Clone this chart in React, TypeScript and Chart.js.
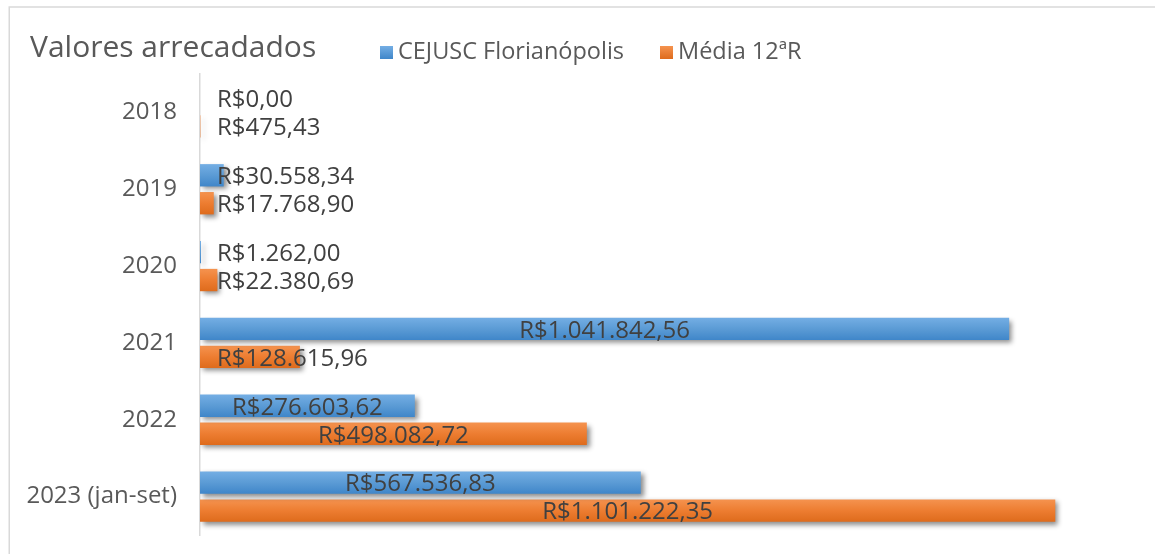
import React, { useEffect, useRef } from "react";
import { Chart, registerables } from "chart.js";

Chart.register(...registerables);

const title = "Valores arrecadados";
const categories = ["2018", "2019", "2020", "2021", "2022", "2023 (jan-set)"];
const seriesNames = ["CEJUSC Florianópolis", "Média 12ªR"];
const cejuscValues = [0, 30558.34, 1262.0, 1041842.56, 276603.62, 567536.83];
const mediaValues = [475.43, 17768.9, 22380.69, 128615.96, 498082.72, 1101222.35];
const xMin = 0;
const xMax = 1200000;

const FONT = "'Open Sans', 'DejaVu Sans', sans-serif";
const CAT_PCT = 0.727;
const BAR_PCT = 0.8;

const seriesColors = [
  { top: "#74aee4", mid: "#5b9bd5", bottom: "#3f86c9", legend: "#5b9bd5" },
  { top: "#f5934f", mid: "#ed7d31", bottom: "#de6b1c", legend: "#ed7d31" },
];

function formatBRL(v: number): string {
  const [i, d] = v.toFixed(2).split(".");
  return "R$" + i.replace(/\B(?=(\d{3})+(?!\d))/g, ".") + "," + d;
}

function gradientFor(dsIndex: number) {
  return (ctx: any) => {
    const chart = ctx.chart;
    const y = chart.scales && chart.scales.y;
    const c = seriesColors[dsIndex];
    if (!y || ctx.dataIndex === undefined) return c.mid;
    const n = categories.length;
    const band = y.height / n;
    const slot = (band * CAT_PCT) / 2;
    const center = y.getPixelForValue(ctx.dataIndex) + (dsIndex - 0.5) * slot;
    const half = (slot * BAR_PCT) / 2;
    if (!isFinite(center) || !isFinite(half) || half <= 0) return c.mid;
    const g = chart.ctx.createLinearGradient(0, center - half, 0, center + half);
    g.addColorStop(0, c.top);
    g.addColorStop(0.5, c.mid);
    g.addColorStop(1, c.bottom);
    return g;
  };
}

const framePlugin = {
  id: "frame",
  beforeDraw(chart: any) {
    const c = chart.ctx;
    c.save();
    c.fillStyle = "#ffffff";
    c.fillRect(0, 0, chart.width, chart.height);
    c.strokeStyle = "#d9d9d9";
    c.lineWidth = 1.5;
    c.beginPath();
    c.moveTo(9.25, chart.height);
    c.lineTo(9.25, 7);
    c.lineTo(chart.width, 7);
    c.stroke();
    // title
    c.fillStyle = "#595959";
    c.font = `30px ${FONT}`;
    c.textBaseline = "alphabetic";
    c.textAlign = "left";
    c.fillText(title, 30, 57);
    // legend
    const legendX = [380, 660];
    c.font = `23.5px ${FONT}`;
    c.textBaseline = "middle";
    seriesNames.forEach((name, i) => {
      const g = c.createLinearGradient(0, 46, 0, 59);
      g.addColorStop(0, seriesColors[i].top);
      g.addColorStop(1, seriesColors[i].bottom);
      c.fillStyle = g;
      c.fillRect(legendX[i], 46, 13, 13);
      c.fillStyle = "#595959";
      c.fillText(name, legendX[i] + 18, 52);
    });
    c.restore();
  },
};

const shadowPlugin = {
  id: "barShadow",
  beforeDatasetDraw(chart: any) {
    const c = chart.ctx;
    c.save();
    c.shadowColor = "rgba(0,0,0,0.45)";
    c.shadowBlur = 5;
    c.shadowOffsetX = 3;
    c.shadowOffsetY = 3;
  },
  afterDatasetDraw(chart: any) {
    chart.ctx.restore();
  },
};

const labelPlugin = {
  id: "valueLabels",
  afterDatasetsDraw(chart: any) {
    const c = chart.ctx;
    const axisX = chart.chartArea.left;
    c.save();
    c.font = `24px ${FONT}`;
    c.fillStyle = "#404040";
    c.textBaseline = "middle";
    c.textAlign = "left";
    chart.data.datasets.forEach((ds: any, di: number) => {
      const meta = chart.getDatasetMeta(di);
      meta.data.forEach((bar: any, i: number) => {
        const text = formatBRL(ds.data[i]);
        const w = c.measureText(text).width;
        const x0 = bar.base;
        const x1 = bar.x;
        let left = (x0 + x1) / 2 - w / 2;
        if (left < axisX + 17) left = axisX + 17;
        c.fillText(text, left, bar.y + 2);
      });
    });
    c.restore();
  },
};

export default function App() {
  const canvasRef = useRef<HTMLCanvasElement | null>(null);

  useEffect(() => {
    document.body.style.margin = "0";
    const canvas = canvasRef.current;
    if (!canvas) return;
    const chart = new Chart(canvas, {
      type: "bar",
      data: {
        labels: categories,
        datasets: [
          {
            label: seriesNames[0],
            data: cejuscValues,
            backgroundColor: gradientFor(0),
            borderWidth: 0,
            categoryPercentage: CAT_PCT,
            barPercentage: BAR_PCT,
          },
          {
            label: seriesNames[1],
            data: mediaValues,
            backgroundColor: gradientFor(1),
            borderWidth: 0,
            categoryPercentage: CAT_PCT,
            barPercentage: BAR_PCT,
          },
        ],
      },
      options: {
        indexAxis: "y",
        responsive: false,
        animation: false,
        maintainAspectRatio: false,
        layout: { padding: { left: 0, top: 74, right: 23, bottom: 19 } },
        plugins: {
          legend: { display: false },
          title: { display: false },
          tooltip: { enabled: false },
        },
        scales: {
          x: {
            display: false,
            min: xMin,
            max: xMax,
          },
          y: {
            afterFit: (s: any) => {
              s.width = 200;
              s.paddingTop = 0;
              s.paddingBottom = 0;
            },
            grid: { display: false, drawTicks: false },
            border: { display: true, color: "#d9d9d9", width: 1.5 },
            ticks: {
              color: "#595959",
              font: { family: FONT, size: 24 },
              padding: 23,
              autoSkip: false,
            },
          },
        },
      },
      plugins: [framePlugin, shadowPlugin, labelPlugin],
    });
    chart.update();
    return () => chart.destroy();
  }, []);

  return (
    <div style={{ width: 1155, height: 554, position: "relative" }}>
      <canvas ref={canvasRef} width={1155} height={554} style={{ display: "block" }} />
    </div>
  );
}
